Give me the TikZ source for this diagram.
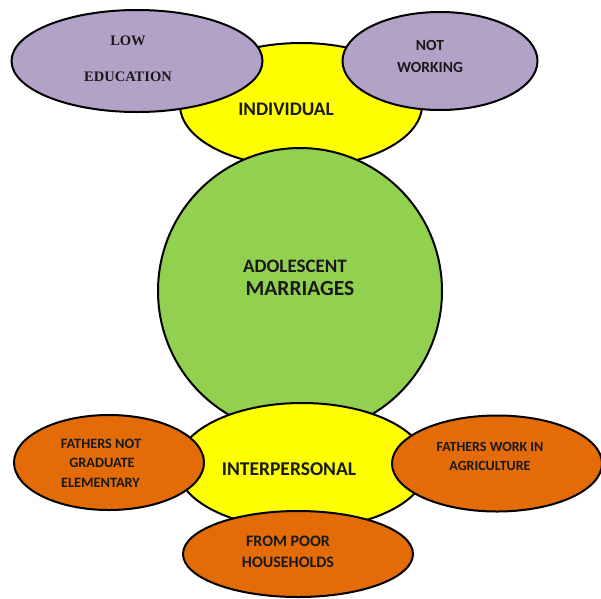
\documentclass[tikz,border=0pt]{standalone}
\usepackage{fontspec}
\usetikzlibrary{shapes.geometric}
\newfontfamily\calibfont{Carlito}
\newfontfamily\timesfont{Liberation Serif}
\definecolor{purpfill}{HTML}{B3A2C7}
\definecolor{yelfill}{HTML}{FFFF00}
\definecolor{grnfill}{HTML}{92D050}
\definecolor{orgfill}{HTML}{E36C09}
\tikzset{
  blob/.style={ellipse, draw=black, line width=2pt, inner sep=0pt},
  lbl/.style={inner sep=0pt, text=black!90, font=\calibfont\bfseries},
  serlbl/.style={inner sep=0pt, text=black!90, font=\timesfont\bfseries},
}
\begin{document}
\begin{tikzpicture}[x=1pt,y=-1pt]
\useasboundingbox (0,0) rectangle (601,598);
% top yellow
\node[blob, fill=yelfill, minimum width=242pt, minimum height=124pt] (indiv) at (301,105) {};
% green circle
\node[blob, fill=grnfill, minimum width=284pt, minimum height=286pt] (adol) at (300,291) {};
% purple ellipses
\node[blob, fill=purpfill, minimum width=251pt, minimum height=102pt] (lowedu) at (137,61) {};
\node[blob, fill=purpfill, minimum width=195pt, minimum height=98pt] (notwork) at (440,61) {};
% bottom yellow
\node[blob, fill=yelfill, minimum width=250pt, minimum height=126pt] (inter) at (302,466) {};
% orange ellipses
\node[blob, fill=orgfill, minimum width=190pt, minimum height=95pt] (fathnot) at (109,462.5) {};
\node[blob, fill=orgfill, minimum width=210pt, minimum height=96pt] (fathwork) at (497,463.5) {};
\node[blob, fill=orgfill, minimum width=230pt, minimum height=86pt] (poor) at (298,554) {};
% texts
\node[serlbl, font=\timesfont\bfseries\fontsize{14.5}{16}\selectfont] (t1) at (128,41) {LOW};
\node[serlbl, font=\timesfont\bfseries\fontsize{14.5}{16}\selectfont] (t2) at (128,77) {EDUCATION};
\node[lbl, font=\calibfont\bfseries\fontsize{15.5}{17}\selectfont] (t3) at (430,45) {NOT};
\node[lbl, font=\calibfont\bfseries\fontsize{15.5}{17}\selectfont] (t4) at (430,67) {WORKING};
\node[lbl, font=\calibfont\bfseries\fontsize{19.2}{21}\selectfont] (t5) at (286,109) {INDIVIDUAL};
\node[lbl, font=\calibfont\bfseries\fontsize{19}{21}\selectfont] (t6) at (295,266) {ADOLESCENT};
\node[lbl, font=\calibfont\bfseries\fontsize{21.5}{24}\selectfont] (t7) at (300,289) {MARRIAGES};
\node[lbl, font=\calibfont\bfseries\fontsize{19.5}{21}\selectfont] (t8) at (289,469) {INTERPERSONAL};
\node[lbl, font=\calibfont\bfseries\fontsize{14.3}{16}\selectfont] (t9) at (101,444) {FATHERS NOT};
\node[lbl, font=\calibfont\bfseries\fontsize{14.3}{16}\selectfont] (t10) at (102,463) {GRADUATE};
\node[lbl, font=\calibfont\bfseries\fontsize{14.3}{16}\selectfont] (t11) at (100.5,483) {ELEMENTARY};
\node[lbl, font=\calibfont\bfseries\fontsize{14}{15}\selectfont] (t12) at (490,447) {FATHERS WORK IN};
\node[lbl, font=\calibfont\bfseries\fontsize{14}{15}\selectfont] (t13) at (490,466) {AGRICULTURE};
\node[lbl, font=\calibfont\bfseries\fontsize{16}{18}\selectfont] (t14) at (288,541) {FROM POOR};
\node[lbl, font=\calibfont\bfseries\fontsize{16}{18}\selectfont] (t15) at (288,562) {HOUSEHOLDS};
\end{tikzpicture}
\end{document}
